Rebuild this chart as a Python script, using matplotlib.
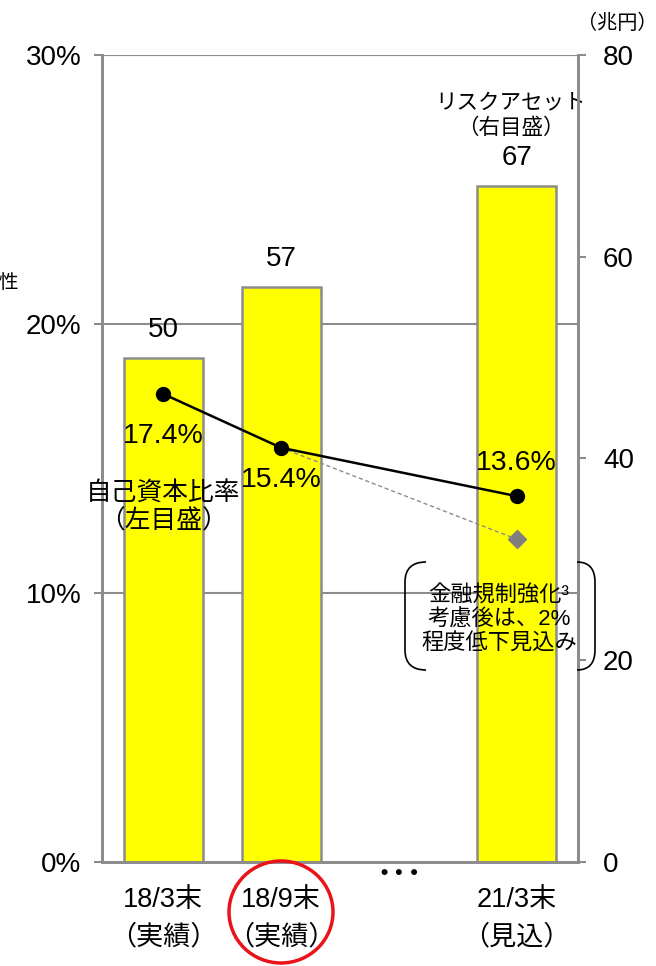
import matplotlib
matplotlib.use("Agg")
from matplotlib import pyplot as plt
from matplotlib.patches import Ellipse, PathPatch
from matplotlib.path import Path

plt.rcParams['font.family'] = ['Liberation Sans', 'Noto Sans CJK JP', 'DejaVu Sans']

# data
positions = [0, 1, 3]
categories = ["18/3末\n（実績）", "18/9末\n（実績）", "21/3末\n（見込）"]
risk_assets = [50, 57, 67]          # 兆円, right axis
capital_ratio = [17.4, 15.4, 13.6]  # %, left axis
ratio_after_reg = [15.4, 12.0]      # dashed projection from 18/9 to 21/3
reg_positions = [1, 3]
left_ticks = [0, 10, 20, 30]
right_ticks = [0, 20, 40, 60, 80]

GRAY = "#8c8c8c"

fig = plt.figure(figsize=(6.56, 9.66), dpi=100)
ax = fig.add_axes([102 / 656, 1 - 862 / 966, 476 / 656, 807 / 966])
ax2 = ax.twinx()

ax.set_ylim(0, 30)
ax2.set_ylim(0, 80)
ax.set_xlim(-0.52, 3.52)

# gridlines behind bars (drawn on the right axis in left-axis units)
scale = 80 / 30
for v in left_ticks[1:]:
    ax2.axhline(v * scale, color=GRAY, lw=1.5, zorder=0)

bars = ax2.bar(positions, risk_assets, width=0.67, color="#ffff00",
               edgecolor=GRAY, linewidth=1.8, zorder=2)
for x, v in zip(positions, risk_assets):
    ax2.annotate(f"{v}", (x, v), xytext=(0, 20), textcoords="offset points",
                 ha="center", va="center", fontsize=20)

# put the ratio line on top
ax.set_zorder(ax2.get_zorder() + 1)
ax.patch.set_visible(False)

ax.plot(reg_positions, ratio_after_reg, color=GRAY, lw=1, ls=(0, (3, 2)), zorder=3)
ax.plot(reg_positions[1:], ratio_after_reg[1:], marker="D", color="#7f7f7f",
        markersize=9, ls="none", zorder=4)
ax.plot(positions, capital_ratio, color="black", lw=1.8, marker="o",
        markersize=10, zorder=5)

label_offsets = [-30, -23, 24]
for x, v, dy in zip(positions, capital_ratio, label_offsets):
    ax.annotate(f"{v}%", (x, v), xytext=(0, dy), textcoords="offset points",
                ha="center", va="center", fontsize=20.5)

# axes styling
for a in (ax, ax2):
    a.spines["top"].set_visible(False)
    for s in ("left", "right", "bottom"):
        a.spines[s].set_color(GRAY)
        a.spines[s].set_linewidth(2)
ax.axhline(30, color=GRAY, lw=1.5, zorder=0)

ax.set_yticks(left_ticks)
ax.set_yticklabels([f"{t}%" for t in left_ticks], fontsize=20)
ax.tick_params(axis="y", direction="out", length=6, width=1.5, color=GRAY, pad=9)
ax2.set_yticks(right_ticks)
ax2.set_yticklabels([str(t) for t in right_ticks], fontsize=20)
ax2.tick_params(axis="y", direction="out", length=6, width=1.5, color=GRAY, pad=12)

ax.set_xticks(positions)
ax.set_xticklabels(categories, fontsize=19.5, linespacing=1.55)
ax.tick_params(axis="x", length=0, pad=18)
ax.text(2, -0.5, "･･･", ha="center", va="center", fontsize=22,
        fontweight="bold", transform=ax.transData, clip_on=False,
        family=['Noto Sans CJK JP'])

# text labels
ax.text(0, 13.2, "自己資本比率\n（左目盛）", ha="center", va="center",
        fontsize=18.5, linespacing=1.2)
ax2.text(2.95, 74, "リスクアセット\n（右目盛）", ha="center", va="center",
         fontsize=15.5, linespacing=1.25)
ax.text(2.85, 9.0, "金融規制強化³\n考慮後は、2%\n程度低下見込み", ha="center",
        va="center", fontsize=16, linespacing=1.15)

fig.text(617 / 656, 1 - 23 / 966, "（兆円）", ha="center", va="center", fontsize=14.5)
fig.text(-0.003, 1 - 283 / 966, "性", ha="left", va="center", fontsize=14)


# brackets around the note (figure pixel coordinates)
def bracket(x_edge, x_in, y_top, y_bot, r=20):
    W, H = 656, 966
    pts = [(x_in, y_top), (x_edge, y_top), (x_edge, y_top + r),
           (x_edge, y_bot - r), (x_edge, y_bot), (x_in, y_bot)]
    codes = [Path.MOVETO, Path.CURVE3, Path.CURVE3, Path.LINETO,
             Path.CURVE3, Path.CURVE3]
    verts = [(x / W, 1 - y / H) for x, y in pts]
    fig.patches.append(PathPatch(Path(verts, codes), fill=False, ec="black",
                                 lw=1.2, transform=fig.transFigure))


bracket(405, 426, 562, 670)
bracket(595, 577, 562, 670)

# highlight circle around the 18/9 label
fig.patches.append(Ellipse((281 / 656, 1 - 912 / 966), 104 / 656, 102 / 966,
                           fill=False, ec="#e8141a", lw=2.5,
                           transform=fig.transFigure))

plt.savefig("out.png", dpi=100)
